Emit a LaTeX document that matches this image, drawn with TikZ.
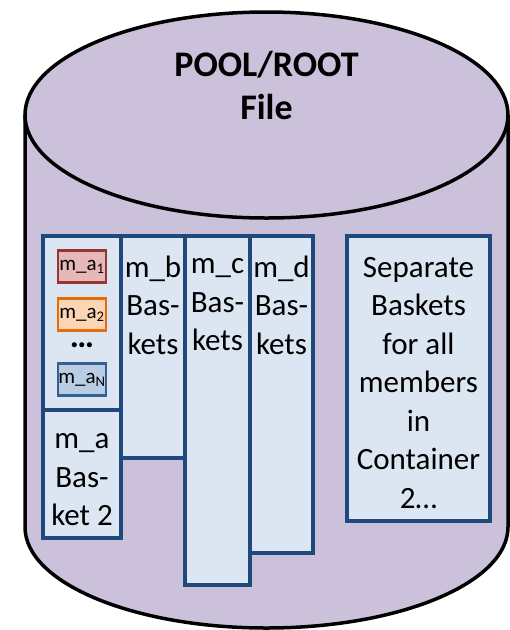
\documentclass[tikz,border=0pt]{standalone}
\usepackage{fontspec}
\setmainfont{Carlito}
\usepackage{xcolor}
\usepackage{tikz}
\definecolor{drum}{RGB}{204,193,218}
\definecolor{boxfill}{RGB}{220,230,242}
\definecolor{boxline}{RGB}{31,73,125}
\definecolor{redline}{RGB}{149,55,53}
\definecolor{redfill}{RGB}{230,185,184}
\definecolor{orangeline}{RGB}{228,108,10}
\definecolor{orangefill}{RGB}{252,213,181}
\definecolor{blueline}{RGB}{55,96,146}
\definecolor{bluefill}{RGB}{185,205,229}
\tikzstyle{basket}=[rectangle,draw=boxline,fill=boxfill,line width=3.5pt,inner sep=0pt,outer sep=0pt]
\tikzstyle{basktext}=[align=center,inner sep=0pt,font=\fontsize{31}{38.5}\selectfont]
\tikzstyle{member}=[rectangle,line width=2.5pt,minimum width=48pt,minimum height=32pt,inner sep=0pt,font=\fontsize{21}{24}\selectfont]
\tikzstyle{title}=[align=center,inner sep=0pt,font=\fontsize{36}{43}\selectfont\bfseries]

\begin{document}
\begin{tikzpicture}[x=1pt,y=-1pt]
        \useasboundingbox (0,0) rectangle (510,630);
        % the file drum
        \fill[drum] (25,115) -- (25,527) arc[start angle=180,end angle=360,x radius=241.5pt,y radius=101pt] -- (508,115) -- cycle;
        \draw[line width=3.5pt] (25,115) -- (25,527) arc[start angle=180,end angle=360,x radius=241.5pt,y radius=101pt] -- (508,115);
        \draw[fill=drum,line width=3.5pt] (266.5,115) ellipse [x radius=241.5pt,y radius=103pt];
        \node at (266.5,85) [title] (file) {POOL/ROOT\\File};
        % baskets
        \node at (82,323) [basket,minimum width=78,minimum height=174] (aTop) {};
        \node at (82,474) [basket,minimum width=78,minimum height=128] (aLow) {};
        \node at (153,347) [basket,minimum width=64,minimum height=222] (mb) {};
        \node at (217.5,410.5) [basket,minimum width=65,minimum height=349] (mc) {};
        \node at (281.5,394.5) [basket,minimum width=63,minimum height=317] (md) {};
        \node at (418.5,378.5) [basket,minimum width=143,minimum height=285] (sep) {};
        \node at (82,480) [basktext] (aLowText) {m\_a\\Bas-\\ket 2};
        \node at (153,305) [basktext] (mbText) {m\_b\\Bas-\\kets};
        \node at (217.5,305) [basktext] (mcText) {m\_c\\Bas-\\kets};
        \node at (281.5,305) [basktext] (mdText) {m\_d\\Bas-\\kets};
        \node at (418.5,383) [basktext] (sepText) {Separate\\Baskets\\for all\\members\\in\\Container\\2…};
        % members of m_a
        \node at (82,266.5) [member,draw=redline,fill=redfill] (a1) {m\_a\textsubscript{1}};
        \node at (82,314.5) [member,draw=orangeline,fill=orangefill] (a2) {m\_a\textsubscript{2}};
        \node at (82,344) [inner sep=0pt,text height=6pt,text depth=0pt,font=\fontsize{34}{34}\selectfont\bfseries] (dots) {…};
        \node at (82,379.5) [member,draw=blueline,fill=bluefill] (aN) {m\_a\textsubscript{N}};
\end{tikzpicture}
\end{document}
